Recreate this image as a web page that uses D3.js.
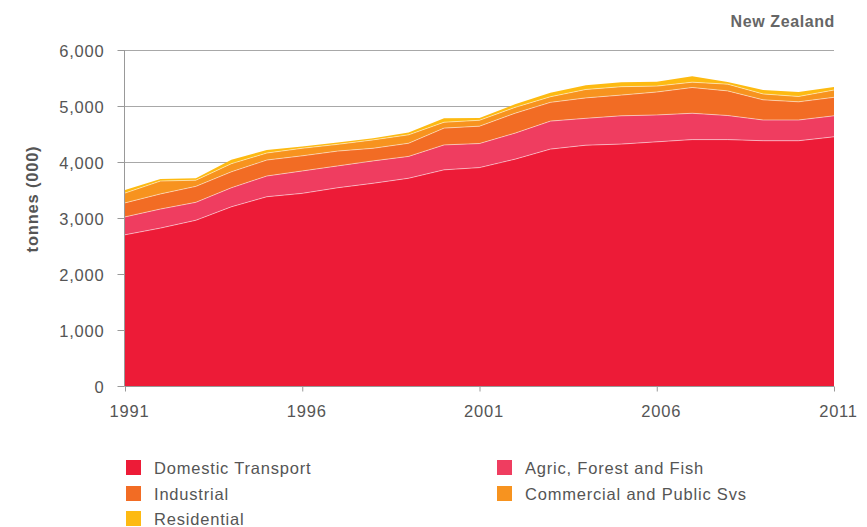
<!DOCTYPE html>
<html>
<head>
<meta charset="utf-8">
<script src="https://cdn.jsdelivr.net/npm/d3@7"></script>
<style>
  html, body { margin: 0; padding: 0; background: #fff; }
  svg { display: block; font-family: "Liberation Sans", Arial, Helvetica, sans-serif; }
</style>
</head>
<body>
<svg id="chart" width="867" height="527"></svg>
<script>
const years = [1991, 1992, 1993, 1994, 1995, 1996, 1997, 1998, 1999, 2000, 2001, 2002, 2003, 2004, 2005, 2006, 2007, 2008, 2009, 2010, 2011];
const domesticTransport = [2700, 2820, 2960, 3200, 3380, 3440, 3540, 3620, 3710, 3860, 3900, 4050, 4230, 4300, 4320, 4360, 4400, 4400, 4380, 4380, 4450];
const agricForestFish   = [320, 340, 320, 340, 370, 400, 390, 400, 390, 445, 430, 465, 500, 480, 505, 480, 470, 430, 370, 370, 375];
const industrial        = [250, 270, 285, 285, 285, 270, 265, 225, 235, 300, 310, 355, 335, 365, 370, 410, 460, 440, 360, 325, 330];
const commercialPublic  = [175, 230, 110, 145, 125, 135, 120, 150, 150, 105, 105, 105, 100, 150, 150, 105, 95, 120, 105, 95, 130];
const residential       = [55, 35, 35, 70, 55, 30, 35, 30, 40, 70, 40, 55, 70, 75, 80, 80, 105, 40, 70, 80, 55];

const seriesNames = ["Domestic Transport", "Agric, Forest and Fish", "Industrial", "Commercial and Public Svs", "Residential"];
const seriesKeys = ["dom", "agr", "ind", "com", "res"];
const seriesColors = ["#ED1B37", "#EF3D60", "#F26C24", "#F7931F", "#FDBA12"];
const yTicks = [0, 1000, 2000, 3000, 4000, 5000, 6000];
const xTicks = [1991, 1996, 2001, 2006, 2011];
const title = "New Zealand";
const yLabel = "tonnes (000)";

const table = years.map((y, i) => ({
  year: y,
  dom: domesticTransport[i],
  agr: agricForestFish[i],
  ind: industrial[i],
  com: commercialPublic[i],
  res: residential[i]
}));

const svg = d3.select("#chart");
const x = d3.scaleLinear().domain([1991, 2011]).range([125, 834]);
const y = d3.scaleLinear().domain([0, 6000]).range([386, 50]);

const textColor = "#555";
const fontSize = "16.5px";
const ls = "0.8px";

// gridlines
svg.append("g").selectAll("line").data(yTicks.filter(d => d > 0)).join("line")
  .attr("x1", 125).attr("x2", 834)
  .attr("y1", d => Math.round(y(d)) + 0.5).attr("y2", d => Math.round(y(d)) + 0.5)
  .attr("stroke", "#a8a8a8").attr("stroke-width", 1);

// stacked areas
const stack = d3.stack().keys(seriesKeys);
const layers = stack(table);
const area = d3.area()
  .x(d => x(d.data.year))
  .y0(d => y(d[0]))
  .y1(d => y(d[1]));
const line = d3.line()
  .x(d => x(d.data.year))
  .y(d => y(d[1]));

svg.append("g").selectAll("path").data(layers).join("path")
  .attr("d", area)
  .attr("fill", (d, i) => seriesColors[i]);

svg.append("g").selectAll("path").data(layers.slice(0, 4)).join("path")
  .attr("d", line)
  .attr("fill", "none")
  .attr("stroke", "rgba(255,255,255,0.55)")
  .attr("stroke-width", 0.9);

// y axis
const yAxis = d3.axisLeft(y).tickValues(yTicks).tickFormat(d3.format(",")).tickSize(7).tickPadding(13);
const gy = svg.append("g").attr("transform", "translate(124.5,0)").call(yAxis);
gy.select(".domain").attr("stroke", "#999").attr("d", "M0,50V386");
gy.selectAll(".tick line").attr("stroke", "#999");
gy.selectAll(".tick text")
  .attr("fill", textColor)
  .style("font-size", fontSize)
  .style("letter-spacing", ls)
  .style("font-family", "'Liberation Sans', Arial, sans-serif")
  .attr("dy", "0.4em");

// x axis
const xAxis = d3.axisBottom(x).tickValues(xTicks).tickFormat(d3.format("d")).tickSize(5).tickPadding(14);
const gx = svg.append("g").attr("transform", "translate(0,386.5)").call(xAxis);
gx.select(".domain").attr("stroke", "#999").attr("d", "M124.5,0H834");
gx.selectAll(".tick line").attr("stroke", "#999");
gx.selectAll(".tick text")
  .attr("fill", textColor)
  .attr("x", 4)
  .style("font-size", fontSize)
  .style("letter-spacing", ls)
  .style("font-family", "'Liberation Sans', Arial, sans-serif");

// y label
svg.append("text")
  .attr("transform", "translate(38,199) rotate(-90)")
  .attr("text-anchor", "middle")
  .attr("fill", textColor)
  .style("font-size", fontSize)
  .style("letter-spacing", ls)
  .style("font-weight", "bold")
  .text(yLabel);

// title
svg.append("text")
  .attr("x", 835).attr("y", 27)
  .attr("text-anchor", "end")
  .attr("fill", "#666")
  .style("font-size", "16px")
  .style("font-weight", "bold")
  .style("letter-spacing", "0.6px")
  .text(title);

// legend
const legendPos = [
  { x: 126, y: 460 }, { x: 497, y: 460 },
  { x: 126, y: 486 }, { x: 497, y: 486 },
  { x: 126, y: 511 }
];
const lg = svg.append("g").selectAll("g").data(seriesNames).join("g")
  .attr("transform", (d, i) => `translate(${legendPos[i].x},${legendPos[i].y})`);
lg.append("rect").attr("width", 15).attr("height", 15).attr("fill", (d, i) => seriesColors[i]);
lg.append("text")
  .attr("x", 28).attr("y", 13.5)
  .attr("fill", textColor)
  .style("font-size", fontSize)
  .style("letter-spacing", ls)
  .text(d => d);
</script>
</body>
</html>
